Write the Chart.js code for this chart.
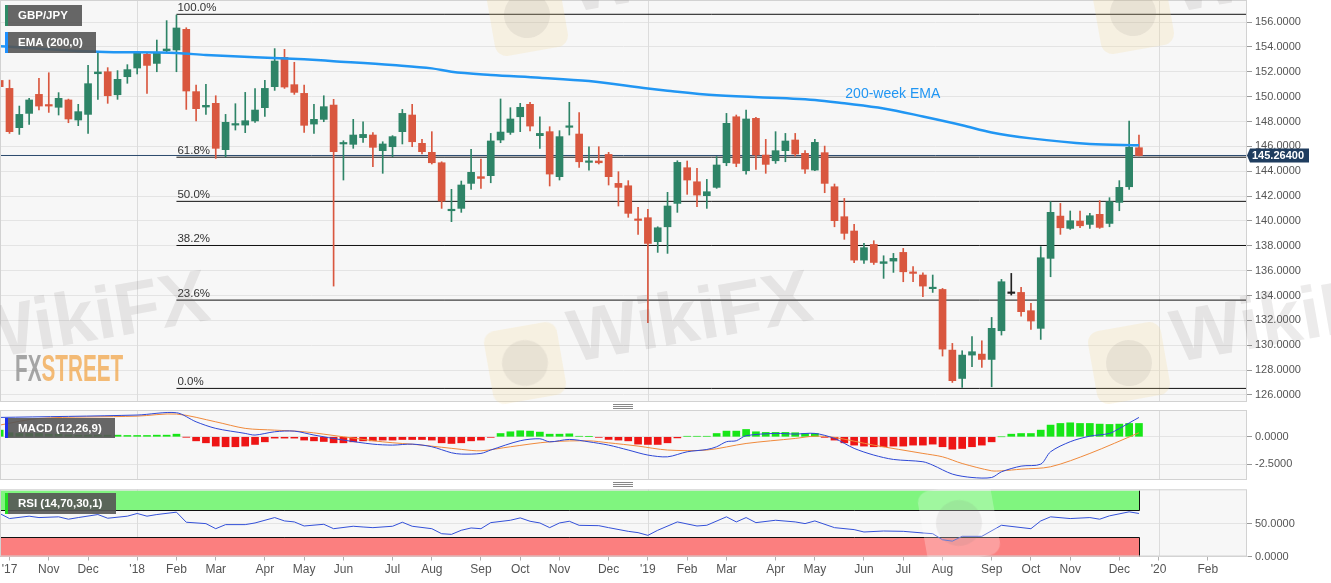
<!DOCTYPE html>
<html>
<head>
<meta charset="utf-8">
<script src="https://cdn.jsdelivr.net/npm/chart.js@4.4.1/dist/chart.umd.min.js"></script>
<style>
body { margin: 0; background: #fff; width: 1331px; height: 583px; overflow: hidden; position: relative; font-family: 'Liberation Sans', Arial, sans-serif; }
canvas { position: absolute; left: 0; }
#mainChart { top: 0; }
#macdChart { top: 410px; }
#rsiChart { top: 488px; }
.tag { position: absolute; left: 5px; height: 21px; background: rgba(85,85,85,0.9); color: #fff; font: bold 11.5px 'Liberation Sans', Arial, sans-serif; line-height: 21px; padding: 0 9px 0 10px; border-left: 3px solid; box-sizing: border-box; }
.grip { position: absolute; left: 613px; width: 20px; height: 3px; border-top: 1px solid #888; border-bottom: 1px solid #888; }
.grip:after { content: ''; position: absolute; left: 0; right: 0; top: 1px; border-top: 1px solid #888; }
.wm { position: absolute; font: bold 74px 'Liberation Sans', Arial, sans-serif; color: rgba(110,100,100,0.13); transform: rotate(-10deg); transform-origin: left bottom; pointer-events: none; white-space: nowrap; line-height: 1; }
.logo { position: absolute; width: 74px; height: 74px; border-radius: 12px; background: rgba(245,215,140,0.2); transform: rotate(-10deg); pointer-events: none; }
.logo:after { content: ''; position: absolute; left: 14px; top: 14px; width: 46px; height: 46px; border-radius: 50%; background: rgba(120,110,110,0.11); }
#fxs { position: absolute; left: 15px; top: 350px; font: bold 37px 'Liberation Sans', Arial, sans-serif; line-height: 1; transform: scaleX(0.56); transform-origin: left top; opacity: 0.75; white-space: nowrap; }
</style>
</head>
<body>
<canvas id="mainChart" width="1331" height="402"></canvas>
<canvas id="macdChart" width="1331" height="70"></canvas>
<canvas id="rsiChart" width="1331" height="95"></canvas>

<div class="logo" style="left:490px;top:-22px"></div>
<div class="logo" style="left:1096px;top:-24px"></div>
<div class="logo" style="left:488px;top:326px"></div>
<div class="logo" style="left:1092px;top:326px"></div>
<div class="logo" style="left:922px;top:486px;background:rgba(255,255,255,0.25)"></div>
<div class="wm" style="left:-28px;top:300px">WikiFX</div>
<div class="wm" style="left:575px;top:300px">WikiFX</div>
<div class="wm" style="left:1178px;top:300px">WikiFX</div>
<div class="wm" style="left:575px;top:-50px">WikiFX</div>
<div class="wm" style="left:1178px;top:-50px">WikiFX</div>
<div id="fxs"><span style="color:#8a8a8a">FX</span><span style="color:#f2a64a">STREET</span></div>

<div class="tag" style="top:5px;width:77px;border-color:#2e8b66">GBP/JPY</div>
<div class="tag" style="top:32px;width:91px;border-color:#1e90ff">EMA (200,0)</div>
<div class="tag" style="top:418px;width:110px;height:20px;line-height:20px;border-color:#1b2ff0">MACD (12,26,9)</div>
<div class="tag" style="top:493px;width:111px;height:21px;border-color:#22dd22">RSI (14,70,30,1)</div>
<div class="grip" style="top:404px"></div>
<div class="grip" style="top:482px"></div>

<script>
// GBP/JPY weekly candles, first candle = week index -1 (week of 24 Sep 2017)
const firstWeek = -1;
const opens = [151.3, 150.66, 147.50, 148.65, 150.18, 149.35, 149.14, 149.73, 148.12, 148.57,
  151.84, 152.00, 150.15, 151.60, 152.30, 153.40, 152.67, 153.69, 153.75, 155.41,
  150.40, 149.16, 149.46, 145.73, 147.71, 147.71, 148.04, 149.11, 150.80, 153.16,
  150.96, 150.26, 147.79, 148.17, 149.32, 146.19, 146.16, 146.70, 146.91, 145.65,
  145.97, 147.18, 148.52, 146.24, 145.52, 144.68, 140.82, 141.01, 143.02, 143.56,
  143.64, 146.51, 147.12, 148.38, 149.38, 146.86, 147.18, 143.56, 147.53, 146.99,
  144.71, 144.82, 145.35, 143.02, 142.83, 140.15, 140.26, 138.33, 139.53, 141.41,
  144.28, 143.15, 142.03, 142.70, 144.68, 148.38, 144.04, 148.25, 145.30, 144.84,
  145.65, 146.51, 145.44, 144.09, 145.49, 142.75, 140.34, 139.19, 136.85, 138.11,
  136.58, 136.77, 137.47, 135.89, 135.65, 134.55, 134.49, 129.61, 127.33, 129.21,
  129.29, 128.86, 131.17, 134.17, 134.25, 132.78, 131.36, 136.99, 140.39, 139.40,
  139.99, 139.72, 140.53, 139.80, 141.49, 142.75, 145.89];
const highs = [152.4, 151.33, 149.24, 149.86, 151.47, 151.92, 150.32, 149.80, 149.38, 152.51,
  153.48, 152.33, 152.09, 152.57, 153.61, 153.53, 154.55, 156.11, 156.56, 155.54,
  150.93, 150.99, 150.07, 148.57, 149.43, 150.34, 150.64, 151.31, 153.86, 153.80,
  152.76, 150.93, 149.38, 150.07, 149.78, 146.45, 148.17, 147.98, 147.10, 146.37,
  146.86, 148.97, 149.38, 146.56, 147.18, 144.76, 142.54, 143.21, 145.76, 144.98,
  147.04, 149.81, 149.11, 149.46, 149.54, 148.38, 147.58, 147.26, 149.54, 148.71,
  145.97, 145.97, 145.52, 143.96, 143.24, 141.09, 140.93, 139.53, 142.30, 144.84,
  144.82, 144.23, 143.34, 145.17, 148.65, 148.52, 148.92, 148.33, 146.56, 147.18,
  147.04, 147.04, 145.65, 146.56, 146.02, 142.97, 141.81, 139.72, 138.19, 138.41,
  137.20, 137.39, 137.79, 136.32, 135.83, 135.65, 134.57, 130.15, 129.56, 130.69,
  130.36, 132.24, 135.30, 135.78, 134.65, 133.37, 137.93, 141.55, 141.41, 140.80,
  140.80, 140.61, 141.63, 141.87, 143.24, 148.04, 146.91];
const lows = [149.8, 147.04, 146.96, 147.77, 148.92, 148.73, 148.52, 147.90, 147.66, 147.04,
  149.78, 149.46, 149.78, 151.07, 151.82, 150.26, 152.00, 153.56, 152.00, 148.97,
  148.04, 148.57, 145.03, 145.17, 147.31, 147.10, 147.93, 148.41, 150.50, 150.66,
  150.18, 147.12, 147.04, 147.98, 134.76, 143.29, 145.84, 146.32, 144.36, 143.83,
  145.17, 146.19, 145.97, 145.38, 144.58, 141.01, 139.94, 140.69, 142.54, 142.62,
  143.07, 146.29, 146.96, 147.18, 147.23, 145.84, 142.81, 143.29, 146.91, 144.31,
  144.09, 144.58, 142.89, 141.20, 140.29, 138.92, 131.81, 137.47, 137.39, 140.69,
  142.14, 141.14, 141.01, 142.62, 144.44, 144.36, 143.77, 144.15, 143.83, 144.63,
  144.76, 145.22, 143.83, 144.04, 142.27, 139.53, 138.52, 136.64, 136.58, 136.50,
  135.38, 135.86, 135.11, 135.11, 133.90, 134.25, 129.13, 127.01, 126.61, 128.27,
  128.22, 126.66, 130.82, 134.04, 132.35, 131.28, 130.47, 135.51, 138.92, 139.32,
  139.45, 139.40, 139.40, 139.53, 140.82, 142.54, 145.22];
const closes = [150.8, 147.18, 148.57, 149.73, 149.24, 149.24, 149.86, 148.20, 148.79, 151.04,
  151.98, 150.07, 151.39, 152.17, 153.48, 152.51, 153.48, 153.83, 155.52, 150.45,
  149.03, 149.30, 145.84, 147.93, 147.82, 148.06, 148.92, 150.66, 152.86, 150.77,
  150.34, 147.69, 148.17, 149.19, 145.57, 146.24, 146.91, 146.96, 145.92, 146.19,
  146.78, 148.65, 146.37, 145.57, 144.68, 141.60, 140.93, 142.89, 143.91, 143.42,
  146.43, 147.15, 148.20, 149.14, 147.63, 147.04, 143.77, 146.78, 147.63, 144.76,
  144.82, 144.68, 143.56, 142.70, 140.61, 140.04, 138.19, 139.45, 141.20, 144.71,
  143.29, 142.08, 142.35, 144.50, 147.85, 144.63, 148.20, 145.30, 144.55, 145.65,
  146.43, 145.38, 144.17, 146.32, 143.02, 140.02, 139.00, 136.85, 137.85, 136.66,
  136.72, 136.99, 135.91, 135.78, 134.76, 134.65, 129.69, 127.15, 129.21, 129.48,
  128.86, 131.36, 135.11, 134.17, 132.70, 131.95, 137.04, 140.69, 139.45, 140.02,
  139.61, 140.42, 139.48, 141.55, 142.70, 145.92, 145.26];

// 200-week EMA, read at points along the line
const emaWeeks  = [-1, 9, 17, 20, 30, 33, 39, 43, 45, 49, 54, 59, 65, 67, 72, 82, 85, 89, 93, 97, 100, 104, 110, 115];
const emaValues = [154.05, 153.61, 153.5, 153.35, 153.0, 152.85, 152.54, 152.27, 152.0, 151.74, 151.52, 151.25,
  150.66, 150.48, 150.1, 149.73, 149.46, 149.05, 148.4, 147.7, 147.12, 146.64, 146.19, 146.08];

// Fibonacci retracement of the Feb-2018 high / Aug-2019 low
const fibHigh = 156.62;
const fibLow = 126.53;
const fibStartWeek = 17;
const fibRatios = [1, 0.618, 0.5, 0.382, 0.236, 0];
const fibLabels = ['100.0%', '61.8%', '50.0%', '38.2%', '23.6%', '0.0%'];
const lastPrice = 145.264;

// MACD (12,26,9)
const macdHist = [0.61, 0.37, 0.30, 0.30, 0.30, 0.24, 0.24, 0.18, 0.15, 0.15,
  0.15, 0.15, 0.15, 0.12, 0.12, 0.12, 0.15, 0.15, 0.24, -0.03,
  -0.37, -0.55, -0.85, -0.91, -0.91, -0.85, -0.70, -0.46, -0.12, -0.12,
  -0.12, -0.30, -0.37, -0.43, -0.55, -0.55, -0.46, -0.37, -0.37, -0.30,
  -0.30, -0.25, -0.25, -0.25, -0.30, -0.55, -0.61, -0.55, -0.37, -0.30,
  -0.05, 0.30, 0.46, 0.55, 0.52, 0.43, 0.24, 0.24, 0.27, 0.05,
  0.03, -0.05, -0.24, -0.30, -0.37, -0.67, -0.70, -0.70, -0.55, -0.10,
  0.05, 0.05, 0.05, 0.30, 0.52, 0.52, 0.67, 0.46, 0.40, 0.40,
  0.40, 0.37, 0.30, 0.30, -0.05, -0.30, -0.55, -0.76, -0.85, -0.91,
  -0.91, -0.85, -0.85, -0.76, -0.76, -0.67, -0.91, -1.13, -1.07, -0.91,
  -0.76, -0.46, 0, 0.24, 0.30, 0.30, 0.61, 1.07, 1.22, 1.28,
  1.22, 1.22, 1.16, 1.13, 1.16, 1.22, 1.22];
const macdWeeks  = [-1, 13, 17, 19, 21, 24, 25, 27, 29, 31, 34, 37, 39, 41, 43, 45, 46, 48, 49, 52, 54, 55, 57, 59,
  61, 63, 65, 67, 69, 71, 72, 73, 74, 75, 78, 80, 82, 84, 86, 88, 90, 93, 94, 96, 98, 100, 101, 103, 105, 106,
  108, 110, 112, 113, 115];
const macdValues = [1.77, 1.99, 2.20, 1.37, 0.77, 0.31, 0.16, 0.46, 0.52, 0.16, -0.30, -0.67, -0.76, -0.67, -0.91,
  -1.46, -1.58, -1.52, -1.21, -0.36, -0.18, -0.46, -0.24, -0.46, -0.76, -1.21, -1.67, -1.83, -1.37, -1.16, -0.91,
  -0.45, -0.36, 0.10, 0.31, 0.25, 0.31, -0.15, -1.06, -1.67, -2.07, -2.28, -2.59, -3.41, -3.72, -3.72, -3.20,
  -2.68, -2.50, -1.37, -0.45, 0.06, 0.31, 0.76, 1.77];
const signalWeeks  = [-1, 3, 13, 17, 21, 24, 27, 30, 34, 38, 42, 46, 48, 51, 55, 59, 61, 64, 67, 71, 75, 80, 82,
  84, 88, 93, 95, 97, 100, 101, 103, 106, 110, 115];
const signalValues = [1.07, 1.68, 1.89, 2.08, 1.37, 0.77, 0.61, 0.46, 0.0, -0.46, -0.76, -1.15, -1.28, -0.91,
  -0.46, -0.37, -0.55, -0.85, -1.21, -1.21, -0.61, -0.15, 0.06, -0.06, -0.76, -1.52, -1.83, -2.44, -3.11, -3.11,
  -2.96, -2.74, -1.52, 0.37];

// RSI (14)
const rsiWeeks  = [-1, 0, 2, 3, 5, 6, 7, 9, 10, 12, 13, 14, 15, 17, 18, 20, 21, 22, 24, 25, 27, 28, 29, 30, 32,
  33, 35, 36, 37, 39, 40, 41, 43, 44, 45, 46, 47, 48, 49, 51, 52, 53, 54, 55, 56, 57, 58, 60, 61, 63, 64, 65,
  66, 68, 70, 71, 73, 74, 75, 76, 78, 80, 81, 82, 84, 86, 87, 89, 91, 93, 94, 95, 96, 97, 99, 101, 104, 105,
  106, 108, 110, 111, 112, 114, 115];
const rsiValues = [65.3, 57.6, 61.2, 59.1, 60.2, 56.6, 59.1, 63.7, 58.1, 61.2, 65.3, 61.2, 63.7, 67.3, 52.0,
  49.9, 42.2, 48.4, 48.4, 50.9, 59.1, 54.0, 52.5, 46.3, 48.9, 42.2, 45.9, 44.8, 43.8, 45.9, 52.0, 45.9, 42.2,
  34.6, 33.6, 39.8, 43.3, 42.2, 51.4, 55.0, 58.6, 53.5, 50.9, 43.8, 50.9, 53.5, 47.3, 46.8, 43.8, 38.2, 36.2,
  32.1, 39.8, 52.5, 46.3, 47.4, 60.2, 52.5, 59.1, 51.4, 55.0, 52.5, 49.9, 54.0, 43.8, 40.8, 37.2, 38.7, 38.2,
  35.7, 34.6, 25.4, 23.3, 30.6, 30.6, 47.4, 42.2, 54.0, 60.2, 57.6, 59.1, 56.6, 61.7, 67.8, 65.3];
const rsiUpper = 70;
const rsiLower = 30;

// axis ticks
const priceTicks = [126, 128, 130, 132, 134, 136, 138, 140, 142, 144, 146, 148, 150, 152, 154, 156];
const macdTicks = [-2.5, 0];
const rsiTicks = [0, 50];
const monthLabels = ["'17", 'Nov', 'Dec', "'18", 'Feb', 'Mar', 'Apr', 'May', 'Jun', 'Jul', 'Aug', 'Sep', 'Oct', 'Nov', 'Dec',
  "'19", 'Feb', 'Mar', 'Apr', 'May', 'Jun', 'Jul', 'Aug', 'Sep', 'Oct', 'Nov', 'Dec', "'20", 'Feb'];
const monthDates = ['2017-10-01', '2017-11-01', '2017-12-01', '2018-01-01', '2018-02-01', '2018-03-01', '2018-04-01',
  '2018-05-01', '2018-06-01', '2018-07-01', '2018-08-01', '2018-09-01', '2018-10-01', '2018-11-01', '2018-12-01',
  '2019-01-01', '2019-02-01', '2019-03-01', '2019-04-01', '2019-05-01', '2019-06-01', '2019-07-01', '2019-08-01',
  '2019-09-01', '2019-10-01', '2019-11-01', '2019-12-01', '2020-01-01', '2020-02-01'];

// month ticks sit on the weekly candle holding the first weekday of the month
// (week 0 starts Sunday 1 Oct 2017)
function tickWeek(d) {
    const DAY = 86400000;
    let t = Date.parse(d);
    const dow = new Date(t).getUTCDay();
    if (dow === 6) t += 2 * DAY;
    if (dow === 0) t += DAY;
    return Math.floor((t - Date.parse('2017-10-01')) / (7 * DAY));
}
const monthWeeks = monthDates.map(tickWeek);
const yearWeeks = monthWeeks.filter((w, i) => monthLabels[i][0] === "'" && w > 1);

const weeks = opens.map((_, i) => firstWeek + i);
const lastWeek = weeks[weeks.length - 1];
const xMin = -0.967;
const xMax = 126.0;

const GREEN = '#2e8467';
const RED = '#d9573f';
const FONT = "'Liberation Sans', Arial, sans-serif";
Chart.defaults.font.family = FONT;
Chart.defaults.animation = false;

function candleColor(i) {
    if (closes[i] > opens[i]) return GREEN;
    if (closes[i] < opens[i]) return RED;
    return '#222';
}

// x axis shared by the three panes
function xAxis(showLabels) {
    return {
        type: 'linear',
        min: xMin,
        max: xMax,
        offset: false,
        display: showLabels,
        afterBuildTicks: axis => { axis.ticks = monthWeeks.map(v => ({ value: v })); },
        afterFit: axis => { axis.paddingLeft = 0; axis.paddingRight = 0; if (showLabels) axis.height = 26.5; },
        grid: { drawOnChartArea: false, drawTicks: true, tickLength: 4, tickColor: '#b0b0b0' },
        border: { color: '#d4d4d4' },
        ticks: {
            autoSkip: false,
            maxRotation: 0,
            padding: 2,
            color: '#555',
            font: { size: 12 },
            callback: (v, i) => monthLabels[i]
        }
    };
}

function yAxis(min, max, tickValues) {
    return {
        position: 'right',
        min: min,
        max: max,
        afterBuildTicks: axis => { axis.ticks = tickValues.map(v => ({ value: v })); },
        afterFit: axis => { axis.width = 84; axis.paddingTop = 0; axis.paddingBottom = 0; },
        grid: { color: '#e4e4e4', tickColor: '#999', tickLength: 5 },
        border: { display: false },
        ticks: { color: '#555', padding: 3, font: { size: 11 }, callback: v => v.toFixed(4) }
    };
}

// panel background, border and year separators
const panelPlugin = {
    id: 'panel',
    beforeDraw(chart) {
        const a = chart.chartArea;
        const ctx = chart.ctx;
        ctx.save();
        ctx.fillStyle = '#f7f7f7';
        ctx.fillRect(a.left, a.top, a.right - a.left, a.bottom - a.top);
        ctx.restore();
    },
    beforeDatasetsDraw(chart) {
        const a = chart.chartArea;
        const ctx = chart.ctx;
        const x = chart.scales.x;
        ctx.save();
        ctx.strokeStyle = '#dcdcdc';
        ctx.lineWidth = 1;
        yearWeeks.forEach(w => {
            const px = Math.round(x.getPixelForValue(w)) + 0.5;
            ctx.beginPath();
            ctx.moveTo(px, a.top);
            ctx.lineTo(px, a.bottom);
            ctx.stroke();
        });
        ctx.restore();
    },
    afterDraw(chart) {
        const a = chart.chartArea;
        const ctx = chart.ctx;
        ctx.save();
        ctx.strokeStyle = '#d2d2d2';
        ctx.lineWidth = 1;
        ctx.strokeRect(a.left + 0.5, a.top + 0.5, a.right - a.left - 1, a.bottom - a.top - 1);
        ctx.restore();
    }
};

// texts on the price pane: fib labels, EMA name, last price box
const priceNotes = {
    id: 'priceNotes',
    afterDatasetsDraw(chart) {
        const ctx = chart.ctx;
        const x = chart.scales.x;
        const y = chart.scales.y;
        ctx.save();
        ctx.font = '11.5px ' + FONT;
        ctx.fillStyle = '#333';
        ctx.textBaseline = 'bottom';
        fibRatios.forEach((r, i) => {
            const lvl = fibLow + r * (fibHigh - fibLow);
            ctx.fillText(fibLabels[i], x.getPixelForValue(fibStartWeek) + 1, y.getPixelForValue(lvl) - 0.5);
        });
        ctx.font = '14px ' + FONT;
        ctx.fillStyle = '#2196f3';
        ctx.textBaseline = 'middle';
        ctx.fillText('200-week EMA', x.getPixelForValue(85.1), y.getPixelForValue(150.2));
        ctx.restore();
    },
    afterDraw(chart) {
        const ctx = chart.ctx;
        const y = chart.scales.y;
        const py = y.getPixelForValue(lastPrice);
        const left = chart.chartArea.right + 3;
        ctx.save();
        ctx.fillStyle = '#1f3d5f';
        ctx.beginPath();
        ctx.moveTo(left - 3, py);
        ctx.lineTo(left, py - 7);
        ctx.lineTo(left + 59, py - 7);
        ctx.lineTo(left + 59, py + 7);
        ctx.lineTo(left, py + 7);
        ctx.closePath();
        ctx.fill();
        ctx.fillStyle = '#fff';
        ctx.font = 'bold 11px ' + FONT;
        ctx.textBaseline = 'middle';
        ctx.fillText(lastPrice.toFixed(5), left + 2, py + 0.5);
        ctx.restore();
    }
};

function hLine(x0, level, color) {
    return {
        type: 'line',
        data: [{ x: x0, y: level }, { x: xMax, y: level }],
        borderColor: color,
        borderWidth: 1,
        pointRadius: 0,
        tension: 0
    };
}

const fibSets = fibRatios.map(r => hLine(fibStartWeek, fibLow + r * (fibHigh - fibLow), '#111'));

new Chart(document.getElementById('mainChart'), {
    type: 'bar',
    data: {
        datasets: [
            {
                type: 'line',
                data: emaWeeks.map((w, i) => ({ x: w, y: emaValues[i] })),
                borderColor: '#2196f3',
                borderWidth: 2.5,
                pointRadius: 0,
                cubicInterpolationMode: 'monotone'
            },
            {
                data: weeks.map((w, i) => ({ x: w, y: [opens[i], closes[i]] })),
                backgroundColor: ctx => candleColor(ctx.dataIndex),
                barThickness: 7,
                minBarLength: 1.5,
                grouped: false
            },
            {
                data: weeks.map((w, i) => ({ x: w, y: [lows[i], highs[i]] })),
                backgroundColor: ctx => candleColor(ctx.dataIndex),
                barThickness: 1,
                grouped: false
            },
            ...fibSets,
            hLine(xMin, lastPrice, '#2b4a6d')
        ]
    },
    options: {
        responsive: false,
        layout: { padding: 0 },
        plugins: { legend: { display: false }, tooltip: { enabled: false } },
        scales: {
            x: xAxis(false),
            y: yAxis(157.77 - 402 / 12.433, 157.77, priceTicks)
        }
    },
    plugins: [panelPlugin, priceNotes]
});

new Chart(document.getElementById('macdChart'), {
    type: 'bar',
    data: {
        datasets: [
            {
                type: 'line',
                data: macdWeeks.map((w, i) => ({ x: w, y: macdValues[i] })),
                borderColor: '#2e48d6',
                borderWidth: 1,
                pointRadius: 0,
                tension: 0.3
            },
            {
                type: 'line',
                data: signalWeeks.map((w, i) => ({ x: w, y: signalValues[i] })),
                borderColor: '#f08a3c',
                borderWidth: 1,
                pointRadius: 0,
                tension: 0.3
            },
            {
                data: weeks.map((w, i) => ({ x: w, y: macdHist[i] })),
                backgroundColor: ctx => (macdHist[ctx.dataIndex] >= 0 ? '#17e617' : '#ee1515'),
                barThickness: 7,
                grouped: false
            }
        ]
    },
    options: {
        responsive: false,
        layout: { padding: 0 },
        plugins: { legend: { display: false }, tooltip: { enabled: false } },
        scales: {
            x: xAxis(false),
            y: yAxis(-3.95, 2.45, macdTicks)
        }
    },
    plugins: [panelPlugin]
});

// RSI overbought / oversold bands
const rsiBands = {
    id: 'rsiBands',
    beforeDatasetsDraw(chart) {
        const ctx = chart.ctx;
        const x = chart.scales.x;
        const y = chart.scales.y;
        const a = chart.chartArea;
        const xr = Math.round(x.getPixelForValue(lastWeek)) + 0.5;
        const y100 = y.getPixelForValue(100);
        const y70 = Math.round(y.getPixelForValue(rsiUpper)) + 0.5;
        const y30 = Math.round(y.getPixelForValue(rsiLower)) + 0.5;
        const y0 = a.bottom;
        ctx.save();
        ctx.fillStyle = '#80f57f';
        ctx.fillRect(a.left, y100, xr - a.left, y70 - y100);
        ctx.fillStyle = '#fb7f7f';
        ctx.fillRect(a.left, y30, xr - a.left, y0 - y30);
        ctx.strokeStyle = '#111';
        ctx.lineWidth = 1;
        ctx.beginPath();
        ctx.moveTo(a.left, y70); ctx.lineTo(xr, y70);
        ctx.moveTo(a.left, y30); ctx.lineTo(xr, y30);
        ctx.moveTo(xr, y100); ctx.lineTo(xr, y70);
        ctx.moveTo(xr, y30); ctx.lineTo(xr, y0);
        ctx.stroke();
        ctx.restore();
    }
};

new Chart(document.getElementById('rsiChart'), {
    type: 'line',
    data: {
        datasets: [{
            data: rsiWeeks.map((w, i) => ({ x: w, y: rsiValues[i] })),
            borderColor: '#3350d8',
            borderWidth: 1,
            pointRadius: 0,
            tension: 0
        }]
    },
    options: {
        responsive: false,
        layout: { padding: { top: 1.3 } },
        plugins: { legend: { display: false }, tooltip: { enabled: false } },
        scales: {
            x: xAxis(true),
            y: yAxis(0, 102, rsiTicks)
        }
    },
    plugins: [panelPlugin, rsiBands]
});
</script>
</body>
</html>
